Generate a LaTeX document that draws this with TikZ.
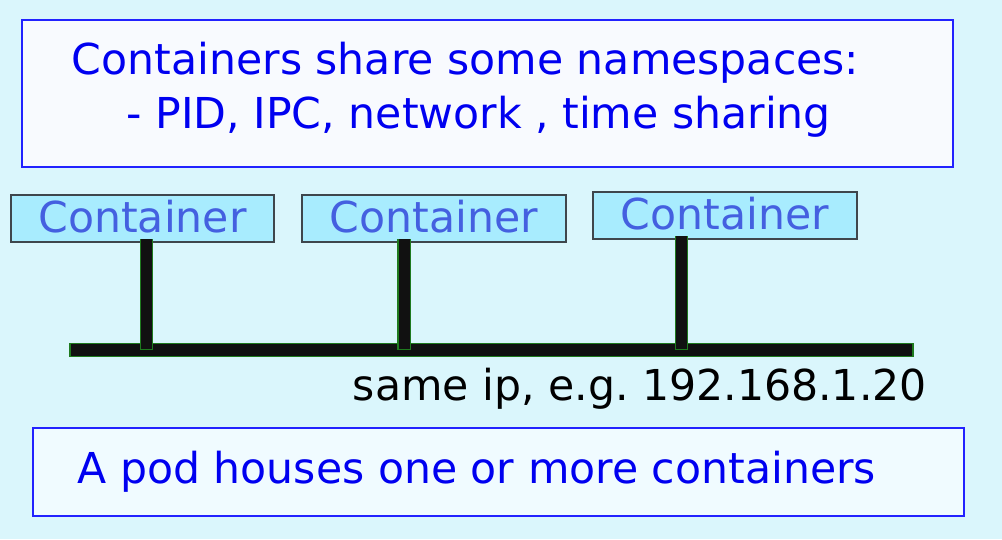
\documentclass[tikz,border=0pt]{standalone}
\usepackage{fontspec}
\setmainfont{DejaVu Sans}
\usepackage{xcolor}
\usepackage{tikz}
\usetikzlibrary{positioning}

\definecolor{podbg}{HTML}{DAF6FC}
\definecolor{notefill}{HTML}{F8FAFE}
\definecolor{podfill}{HTML}{F0FBFF}
\definecolor{noteblue}{HTML}{0000F0}
\definecolor{noteborder}{HTML}{2222FF}
\definecolor{boxfill}{HTML}{A8ECFE}
\definecolor{boxborder}{HTML}{3E464C}
\definecolor{boxtext}{HTML}{4460E0}
\definecolor{stemblack}{HTML}{111111}
\definecolor{stemgreen}{HTML}{1E7A1E}

\tikzset{
  notebox/.style={draw=noteborder, line width=2pt, anchor=north west, inner sep=0pt},
  notetext/.style={anchor=base west, inner sep=0pt, text=noteblue},
  cbox/.style={draw=boxborder, line width=1.2pt, fill=boxfill, text=boxtext,
    minimum width=263pt, minimum height=47pt, inner sep=0pt, outer sep=0pt,
    text height=32pt, text depth=5pt},
  busbar/.style={draw=stemgreen, fill=stemblack, line width=1.3pt, inner sep=0pt,
    minimum width=843pt, minimum height=13pt},
  stem/.style={draw=stemgreen, line width=13.4pt, shorten <=-2.7pt,
    postaction={draw=stemblack, line width=11pt, shorten <=-2.7pt, shorten >=1.3pt}}
}

\frenchspacing

\begin{document}
\begin{tikzpicture}[x=1pt, y=-1pt, font=\fontsize{42.6}{52}\selectfont\frenchspacing]

% ---------------- 1. BACKGROUND ----------------
\fill[podbg] (0,0) rectangle (1002,539);
\useasboundingbox (0,0) rectangle (1002,539);

% ---------------- 2. NAMESPACE NOTE ----------------
\node[notebox, fill=notefill, minimum width=931pt, minimum height=147pt] (nsbox) at (21,19) {};
\node[notetext] (ns1) at (71.7,74.5) {Containers share some namespaces:};
\node[notetext] (ns2) at (126.5,128.5) {- PID, IPC, network , time sharing};

% ---------------- 3. CONTAINERS ----------------
\node[cbox, anchor=north west] (c1) at (11,195) {Container};
\node[cbox, minimum width=264pt, right=28pt of c1] (c2) {Container};
\node[cbox, minimum width=264pt, right=27pt of c2, yshift=3pt] (c3) {Container};

% ---------------- 4. SHARED NETWORK ----------------
\node[busbar] (bus) at (491.5,350) {};

% taps on the bar
\coordinate (tap1) at (146.7,350);
\coordinate (tap2) at (404,350);
\coordinate (tap3) at (681.7,350);

\draw[stem] (tap1 |- c1.south) -- (tap1);
\draw[stem] (tap2 |- c2.south) -- (tap2);
\draw[stem] (tap3 |- c3.south) -- (tap3);

\node[anchor=base west, inner sep=0pt] (ip) at (352.7,400.5) {same ip, e.g. 192.168.1.20};

% ---------------- 5. POD NOTE ----------------
\node[notebox, fill=podfill, minimum width=931pt, minimum height=88pt] (podbox) at (32.3,426.7) {};
\node[notetext] (pod) at (77.3,483) {A pod houses one or more containers};

\end{tikzpicture}
\end{document}
